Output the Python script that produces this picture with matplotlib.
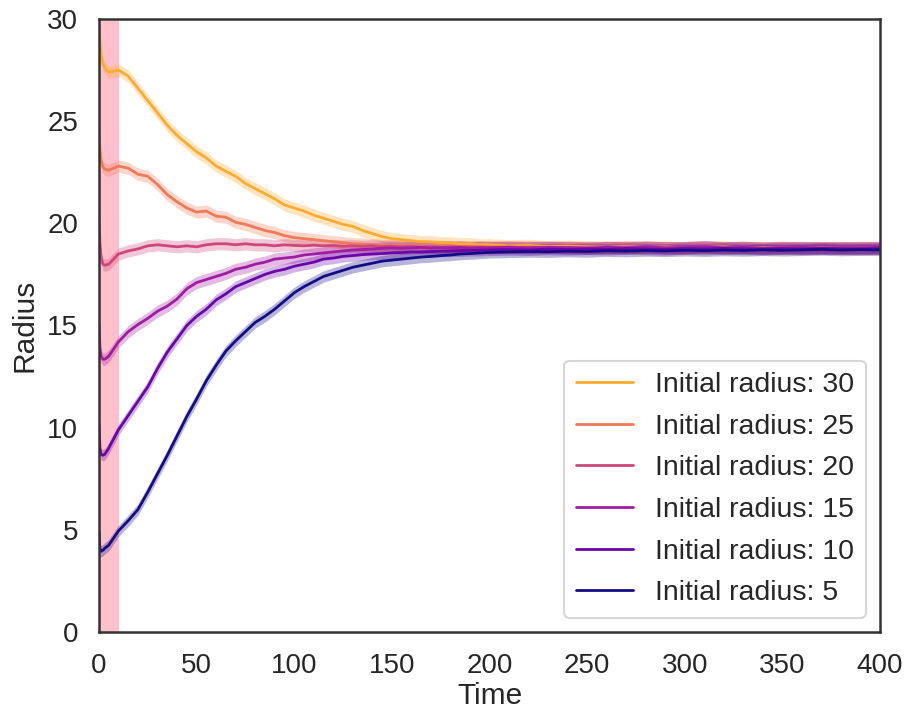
import numpy as np
import matplotlib
matplotlib.use('Agg')
import matplotlib.pyplot as plt
import seaborn as sns

# time points (denser at the very start where the curves drop fast)
time = [0, 0.5, 1, 2, 3] + list(range(5, 200, 5)) + list(range(200, 401, 10))

initial_radii = [30, 25, 20, 15, 10, 5]

r30 = [29.5, 28.9, 28.3, 27.8, 27.6, 27.4, 27.5, 27.2, 26.6, 26.0, 25.4, 24.8, 24.3, 23.9, 23.5,
       23.2, 22.8, 22.55, 22.3, 21.95, 21.7, 21.45, 21.2, 20.9, 20.75, 20.6, 20.4, 20.25, 20.1, 19.95,
       19.85, 19.65, 19.5, 19.35, 19.25, 19.2, 19.15, 19.1, 19.1, 19.05, 19.05, 19.0, 19.0, 18.95,
       18.95, 18.9, 18.92, 18.86, 18.88, 18.85, 18.83, 18.86, 18.82, 18.84, 18.8, 18.83, 18.85, 18.8,
       18.82, 18.78, 18.8, 18.82, 18.78, 18.8, 18.78]
r25 = [24.6, 23.6, 23.1, 22.75, 22.65, 22.6, 22.8, 22.7, 22.4, 22.3, 21.9, 21.4, 21.05, 20.75, 20.55,
       20.6, 20.35, 20.3, 20.05, 19.95, 19.8, 19.65, 19.55, 19.4, 19.3, 19.25, 19.2, 19.15, 19.1, 19.05,
       19.0, 18.98, 18.95, 18.92, 18.9, 18.9, 18.88, 18.9, 18.86, 18.88, 18.85, 18.86, 18.84, 18.85,
       18.84, 18.86, 18.82, 18.84, 18.8, 18.83, 18.81, 18.84, 18.8, 18.82, 18.79, 18.82, 18.8, 18.83,
       18.79, 18.81, 18.78, 18.8, 18.82, 18.79, 18.8]
r20 = [20.4, 19.0, 18.4, 18.0, 17.95, 18.0, 18.5, 18.65, 18.75, 18.9, 18.95, 18.9, 18.85, 18.9, 18.85,
       18.95, 19.0, 19.0, 18.95, 19.0, 18.95, 18.95, 18.9, 18.95, 18.92, 18.9, 18.93, 18.9, 18.92, 18.88,
       18.9, 18.87, 18.9, 18.86, 18.88, 18.85, 18.87, 18.84, 18.86, 18.83, 18.85, 18.84, 18.82, 18.84,
       18.83, 18.8, 18.84, 18.81, 18.83, 18.79, 18.82, 18.8, 18.84, 18.8, 18.82, 18.85, 18.8, 18.82,
       18.79, 18.83, 18.8, 18.81, 18.78, 18.82, 18.8]
r15 = [15.1, 13.9, 13.5, 13.35, 13.35, 13.5, 14.2, 14.7, 15.05, 15.35, 15.7, 15.95, 16.3, 16.8, 17.1,
       17.25, 17.4, 17.55, 17.75, 17.85, 18.0, 18.1, 18.25, 18.3, 18.35, 18.45, 18.5, 18.55, 18.6, 18.65,
       18.7, 18.72, 18.75, 18.78, 18.8, 18.78, 18.8, 18.82, 18.79, 18.81, 18.8, 18.82, 18.79, 18.81,
       18.8, 18.83, 18.79, 18.82, 18.8, 18.78, 18.82, 18.8, 18.84, 18.79, 18.81, 18.86, 18.8, 18.82,
       18.78, 18.8, 18.82, 18.79, 18.81, 18.8, 18.82]
r10 = [10.2, 9.0, 8.7, 8.65, 8.7, 9.0, 9.9, 10.6, 11.3, 12.0, 12.9, 13.7, 14.35, 15.0, 15.45,
       15.8, 16.25, 16.55, 16.9, 17.1, 17.3, 17.5, 17.65, 17.75, 17.9, 18.0, 18.1, 18.25, 18.3, 18.38,
       18.42, 18.47, 18.5, 18.52, 18.55, 18.57, 18.6, 18.6, 18.62, 18.64, 18.65, 18.66, 18.68, 18.68,
       18.7, 18.72, 18.7, 18.74, 18.72, 18.75, 18.73, 18.76, 18.74, 18.72, 18.76, 18.74, 18.77, 18.75,
       18.73, 18.76, 18.74, 18.77, 18.75, 18.74, 18.76]
r5 = [5.0, 4.0, 3.95, 4.0, 4.1, 4.25, 4.95, 5.45, 6.0, 6.85, 7.75, 8.65, 9.6, 10.55, 11.4,
      12.3, 13.05, 13.75, 14.25, 14.7, 15.15, 15.45, 15.8, 16.2, 16.6, 16.9, 17.15, 17.4, 17.55, 17.7,
      17.85, 17.95, 18.05, 18.15, 18.2, 18.25, 18.3, 18.35, 18.38, 18.42, 18.45, 18.5, 18.52, 18.55,
      18.58, 18.6, 18.62, 18.61, 18.64, 18.62, 18.66, 18.64, 18.67, 18.65, 18.68, 18.66, 18.69, 18.67,
      18.7, 18.68, 18.7, 18.72, 18.69, 18.71, 18.7]

# half width of the shaded band around each mean curve
band_width = [0.3, 0.3, 0.3, 0.3, 0.28, 0.28]

colors = ['#fdab2f', '#ef7a55', '#cf467a', '#a01ca2', '#6a06a8', '#140b86']

sns.set_theme(style='white', context='talk')
plt.rcParams['font.family'] = ['Liberation Sans', 'DejaVu Sans']

fig = plt.figure(figsize=(9.19, 7.11), dpi=100)
ax = fig.add_axes([0.1077, 0.1111, 0.8499, 0.8622])

ax.axvspan(0, 10, color='pink', alpha=1.0, lw=0, zorder=0)

t = np.array(time)
for r0, vals, bw, c in zip(initial_radii, [r30, r25, r20, r15, r10, r5], band_width, colors):
    v = np.array(vals)
    ax.fill_between(t, v - bw, v + bw, color=c, alpha=0.3, lw=0, zorder=1)
    ax.plot(t, v, color=c, lw=2.0, label=f'Initial radius: {r0}', zorder=2)

ax.set_xlim(0, 400)
ax.set_ylim(0, 30)
ax.set_xticks(range(0, 401, 50))
ax.set_yticks(range(0, 31, 5))
ax.tick_params(labelsize=20, pad=6)
ax.set_xlabel('Time', fontsize=21.5, labelpad=2)
ax.set_ylabel('Radius', fontsize=21.5, labelpad=6)
for s in ax.spines.values():
    s.set_color('.2')
    s.set_linewidth(1.8)

ax.legend(loc='lower right', fontsize=20.5, handlelength=2.0, handletextpad=0.8,
          labelspacing=0.55, borderaxespad=0.5)

fig.savefig('out.png', dpi=100)
